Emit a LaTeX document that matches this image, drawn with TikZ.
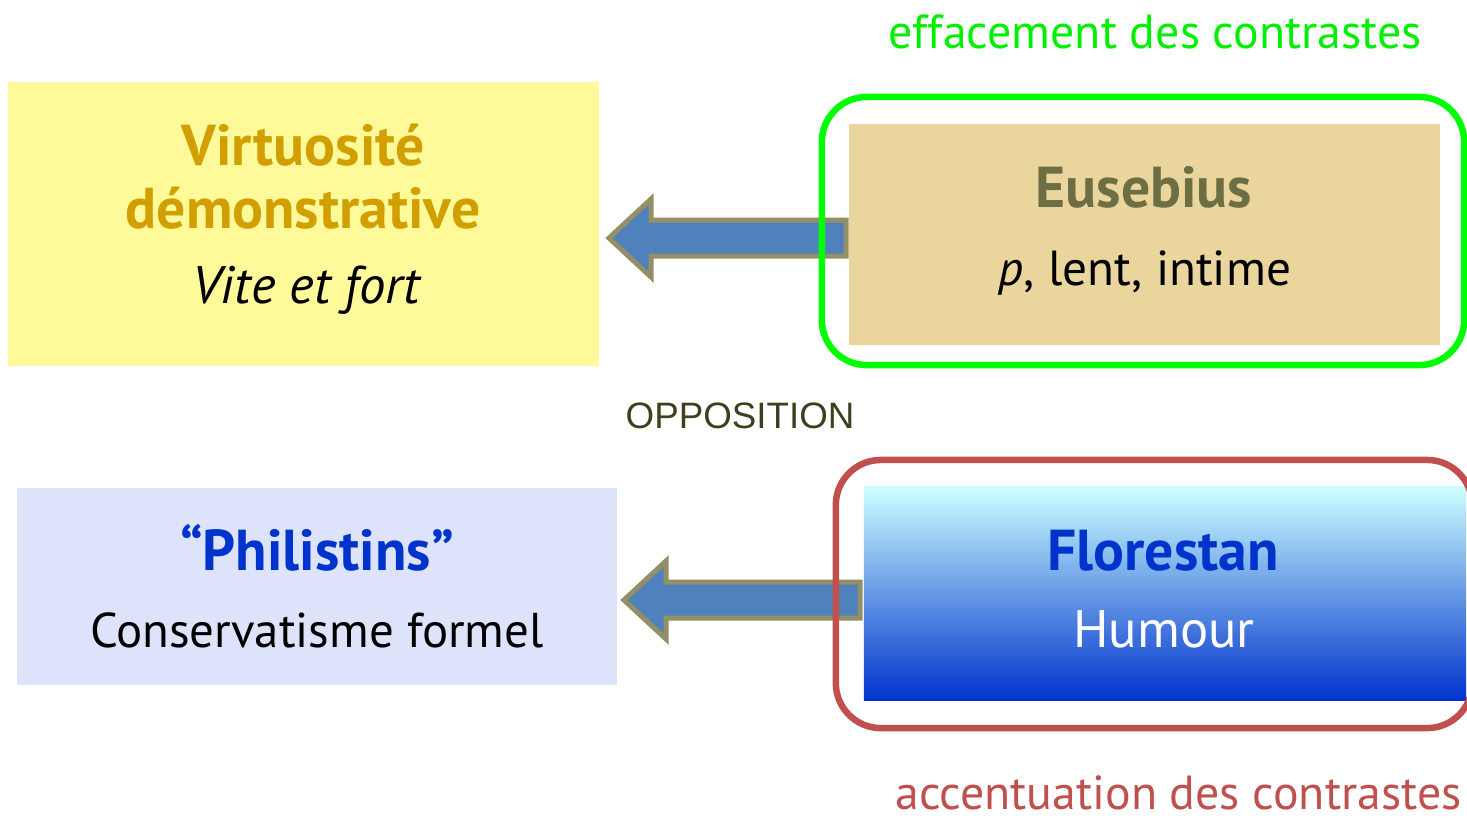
\documentclass[tikz,border=0pt]{standalone}
\usepackage{fontspec}
\setmainfont{PT Sans}
\newfontfamily\arialfont{Liberation Sans}
\usetikzlibrary{positioning,calc}

\definecolor{virtfill}{HTML}{FFFA99}
\definecolor{virttext}{HTML}{D19F00}
\definecolor{eusfill}{HTML}{EAD69C}
\definecolor{eustext}{HTML}{6E6E45}
\definecolor{philfill}{HTML}{DCE3FA}
\definecolor{deepblue}{HTML}{0033CC}
\definecolor{florTop}{HTML}{CCFFFF}
\definecolor{florMid}{HTML}{6FAEE6}
\definecolor{arrowfill}{HTML}{4F81BD}
\definecolor{arrowedge}{HTML}{938F67}
\definecolor{effgreen}{HTML}{00F000}
\definecolor{accred}{HTML}{C0504D}
\definecolor{oppcol}{HTML}{3F3F1F}

% block arrow from #1 (tail) to #2 (tip)
\newcommand{\bigarrow}[2]{
\draw[blockarrow] (#2) -- ($(#2)+(42,-39)$) -- ($(#2)+(42,-18)$) -- ($(#1)+(0,-18)$)
	-- ($(#1)+(0,18)$) -- ($(#2)+(42,18)$) -- ($(#2)+(42,39)$) -- cycle;
}

\begin{document}
\begin{tikzpicture}[x=0.01cm, y=-0.01cm,
	box/.style={rectangle, inner sep=0pt, draw=none},
	frame/.style={rectangle, rounded corners=0.45cm, line width=0.065cm, inner sep=0pt},
	blockarrow/.style={fill=arrowfill, draw=arrowedge, line width=0.05cm, line join=miter},
	title/.style={anchor=base, font=\bfseries\fontsize{16.4}{20}\selectfont},
	sub/.style={anchor=base, font=\fontsize{14}{17}\selectfont},
	note/.style={anchor=base, font=\fontsize{13.6}{16}\selectfont}]
\useasboundingbox (0,0) rectangle (1467,817);

% boxes
\node[box, fill=virtfill, minimum width=5.91cm, minimum height=2.84cm] (virt) at (303.5,224) {};
\node[box, fill=eusfill, minimum width=5.91cm, minimum height=2.21cm] (eus) at (1144.5,234.5) {};
\node[box, fill=philfill, minimum width=6.00cm, minimum height=1.97cm] (phil) at (317,586.5) {};
\node[box, top color=florTop, middle color=florMid, bottom color=deepblue,
	minimum width=6.02cm, minimum height=2.13cm] (flor) at (1165,593.5) {};

% arrows
\coordinate (tip1) at (609,238);
\coordinate (tail1) at ($(eus.west |- tip1)+(-2,0)$);
\bigarrow{tail1}{tip1}
\coordinate (tip2) at (624,600);
\coordinate (tail2) at ($(flor.west |- tip2)+(-3,0)$);
\bigarrow{tail2}{tip2}

% frames
\node[frame, draw=green, minimum width=6.42cm, minimum height=2.68cm] (effframe) at (1143,231) {};
\node[frame, draw=accred, minimum width=6.36cm, minimum height=2.68cm] (accframe) at (1154,594) {};

% texts
\node[title, text=virttext] (virt1) at (303,165) {Virtuosité};
\node[title, text=virttext] (virt2) at (303,228) {démonstrative};
\node[sub, font=\itshape\fontsize{15}{18}\selectfont] (virt3) at (306,303) {Vite et fort};
\node[title, text=eustext] (eus1) at (1144,207) {Eusebius};
\node[sub] (eus2) at (1145,285) {\textit{p}, lent, intime};
\node[title, text=deepblue] (phil1) at (317,570) {“Philistins”};
\node[sub, font=\fontsize{13.9}{17}\selectfont] (phil2) at (317,647) {Conservatisme formel};
\node[title, text=deepblue] (flor1) at (1163,570) {Florestan};
\node[sub, font=\fontsize{15}{18}\selectfont, text=white] (flor2) at (1164,647) {Humour};
\node[anchor=base, font=\arialfont\fontsize{10.45}{13}\selectfont, text=oppcol] (opp) at (740,428) {OPPOSITION};
\node[note, text=effgreen] (eff) at (1155,48) {effacement des contrastes};
\node[note, text=accred] (acc) at (1178.5,809) {accentuation des contrastes};
\end{tikzpicture}
\end{document}
